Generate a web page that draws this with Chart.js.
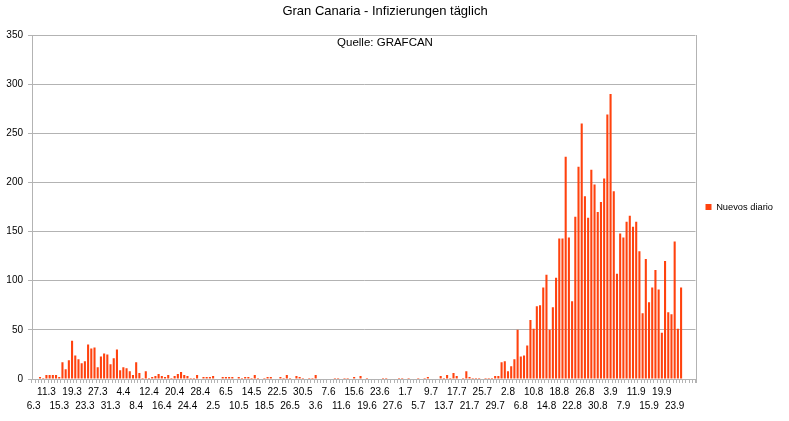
<!DOCTYPE html>
<html>
<head>
<meta charset="utf-8">
<title>Gran Canaria - Infizierungen täglich</title>
<script src="https://cdn.jsdelivr.net/npm/chart.js@4.4.0/dist/chart.umd.min.js"></script>
<style>
  html, body { margin: 0; padding: 0; background: #fff; }
  #chart { display: block; }
</style>
</head>
<body>
<canvas id="chart" width="789" height="421"></canvas>
<script>
// Daten
const titleText = 'Gran Canaria - Infizierungen täglich';
const sourceText = 'Quelle: GRAFCAN';
const seriesName = 'Nuevos diario';

// jede 4. Kategorie beschriftet
const tickLabels = ['6.3', '11.3', '15.3', '19.3', '23.3', '27.3', '31.3', '4.4', '8.4', '12.4',
    '16.4', '20.4', '24.4', '28.4', '2.5', '6.5', '10.5', '14.5', '18.5', '22.5',
    '26.5', '30.5', '3.6', '7.6', '11.6', '15.6', '19.6', '23.6', '27.6', '1.7',
    '5.7', '9.7', '13.7', '17.7', '21.7', '25.7', '29.7', '2.8', '6.8', '10.8',
    '14.8', '18.8', '22.8', '26.8', '30.8', '3.9', '7.9', '11.9', '15.9', '19.9', '23.9'];

const nuevosDiario = [
    0, 0, 2, 1, 4, 4, 4, 4, 2, 17,
    10, 19, 39, 24, 20, 16, 18, 35, 31, 32,
    12, 23, 26, 25, 15, 21, 30, 9, 12, 11,
    8, 4, 17, 6, 1, 8, 1, 2, 3, 5,
    3, 2, 4, 1, 3, 5, 7, 4, 3, 1,
    1, 4, 0, 2, 2, 2, 3, 0, 0, 2,
    2, 2, 2, 0, 2, 1, 2, 2, 1, 4,
    1, 0, 1, 2, 2, 0, 0, 2, 1, 4,
    1, 0, 3, 2, 1, 0, 1, 1, 4, 0,
    0, 0, 0, 0, 1, 1, 0, 1, 1, 0,
    2, 0, 3, 0, 1, 0, 0, 0, 0, 1,
    1, 0, 0, 0, 1, 1, 0, 1, 0, 0,
    1, 0, 1, 2, 0, 0, 0, 3, 1, 4,
    1, 6, 3, 0, 1, 8, 2, 1, 1, 1,
    0, 1, 1, 1, 3, 3, 17, 18, 8, 13,
    20, 50, 23, 24, 34, 60, 51, 74, 75, 93,
    106, 50, 73, 103, 143, 143, 226, 144, 79, 165,
    216, 260, 186, 164, 213, 198, 170, 180, 204, 269,
    290, 191, 107, 148, 144, 160, 166, 155, 160, 130,
    67, 122, 78, 93, 111, 91, 47, 120, 68, 66,
    140, 51, 93, null, null, null, null
];

// Kategorien: 6.3, dann ab 8.3 täglich
const categories = ['6.3'];
for (let i = 1; i < nuevosDiario.length; i++) {
    const d = new Date(2020, 2, 8 + i - 1);
    categories.push(d.getDate() + '.' + (d.getMonth() + 1));
}

const gridColor = '#b3b3b3';
const barColor = '#ff420e';
Chart.defaults.font.family = '"Liberation Sans", Arial, sans-serif';
Chart.defaults.color = '#000';

// Titel, Quelle und rechter Rahmen
const textPlugin = {
    id: 'texts',
    afterDraw(chart) {
        const ctx = chart.ctx;
        const area = chart.chartArea;
        ctx.save();
        ctx.strokeStyle = gridColor;
        ctx.lineWidth = 1;
        ctx.beginPath();
        ctx.moveTo(Math.round(area.right) + 0.5, area.top);
        ctx.lineTo(Math.round(area.right) + 0.5, area.bottom + 4);
        ctx.stroke();

        ctx.fillStyle = '#000';
        ctx.textAlign = 'center';
        ctx.textBaseline = 'middle';
        ctx.font = '13px "Liberation Sans", Arial, sans-serif';
        ctx.fillText(titleText, 385, 11);
        ctx.font = '11.5px "Liberation Sans", Arial, sans-serif';
        ctx.fillText(sourceText, 385, 43);
        ctx.restore();
    }
};

const ctx = document.getElementById('chart').getContext('2d');
const chart = new Chart(ctx, {
    type: 'bar',
    data: {
        labels: categories,
        datasets: [{
            label: seriesName,
            data: nuevosDiario,
            backgroundColor: barColor,
            borderWidth: 0,
            barPercentage: 0.65,
            categoryPercentage: 1.0
        }]
    },
    options: {
        responsive: false,
        animation: false,
        layout: {
            padding: { top: 35, right: 6, bottom: 0, left: 0 }
        },
        plugins: {
            title: { display: false },
            tooltip: { enabled: false },
            legend: {
                position: 'right',
                fullSize: false,
                labels: {
                    boxWidth: 6,
                    boxHeight: 6,
                    padding: 10,
                    font: { size: 9.3 },
                    color: '#000'
                }
            }
        },
        scales: {
            x: {
                offset: true,
                border: { color: gridColor },
                grid: {
                    offset: true,
                    drawOnChartArea: false,
                    drawTicks: true,
                    tickLength: 4,
                    color: gridColor
                },
                ticks: {
                    autoSkip: false,
                    maxRotation: 0,
                    minRotation: 0,
                    padding: 2,
                    font: { size: 10, lineHeight: 1.4 },
                    callback: function (value, index) {
                        if (index % 4 !== 0) return '';
                        const lbl = tickLabels[index / 4];
                        if (!lbl) return '';
                        return (index / 4) % 2 === 0 ? ['', lbl] : lbl;
                    }
                },
                afterFit: function (scale) { scale.height = 42; }
            },
            y: {
                min: 0,
                max: 350,
                border: { color: gridColor },
                grid: {
                    color: gridColor,
                    drawTicks: true,
                    tickLength: 4
                },
                ticks: {
                    stepSize: 50,
                    padding: 5,
                    font: { size: 10 }
                },
                afterFit: function (scale) { scale.width = 32; }
            }
        }
    },
    plugins: [textPlugin]
});
</script>
</body>
</html>
